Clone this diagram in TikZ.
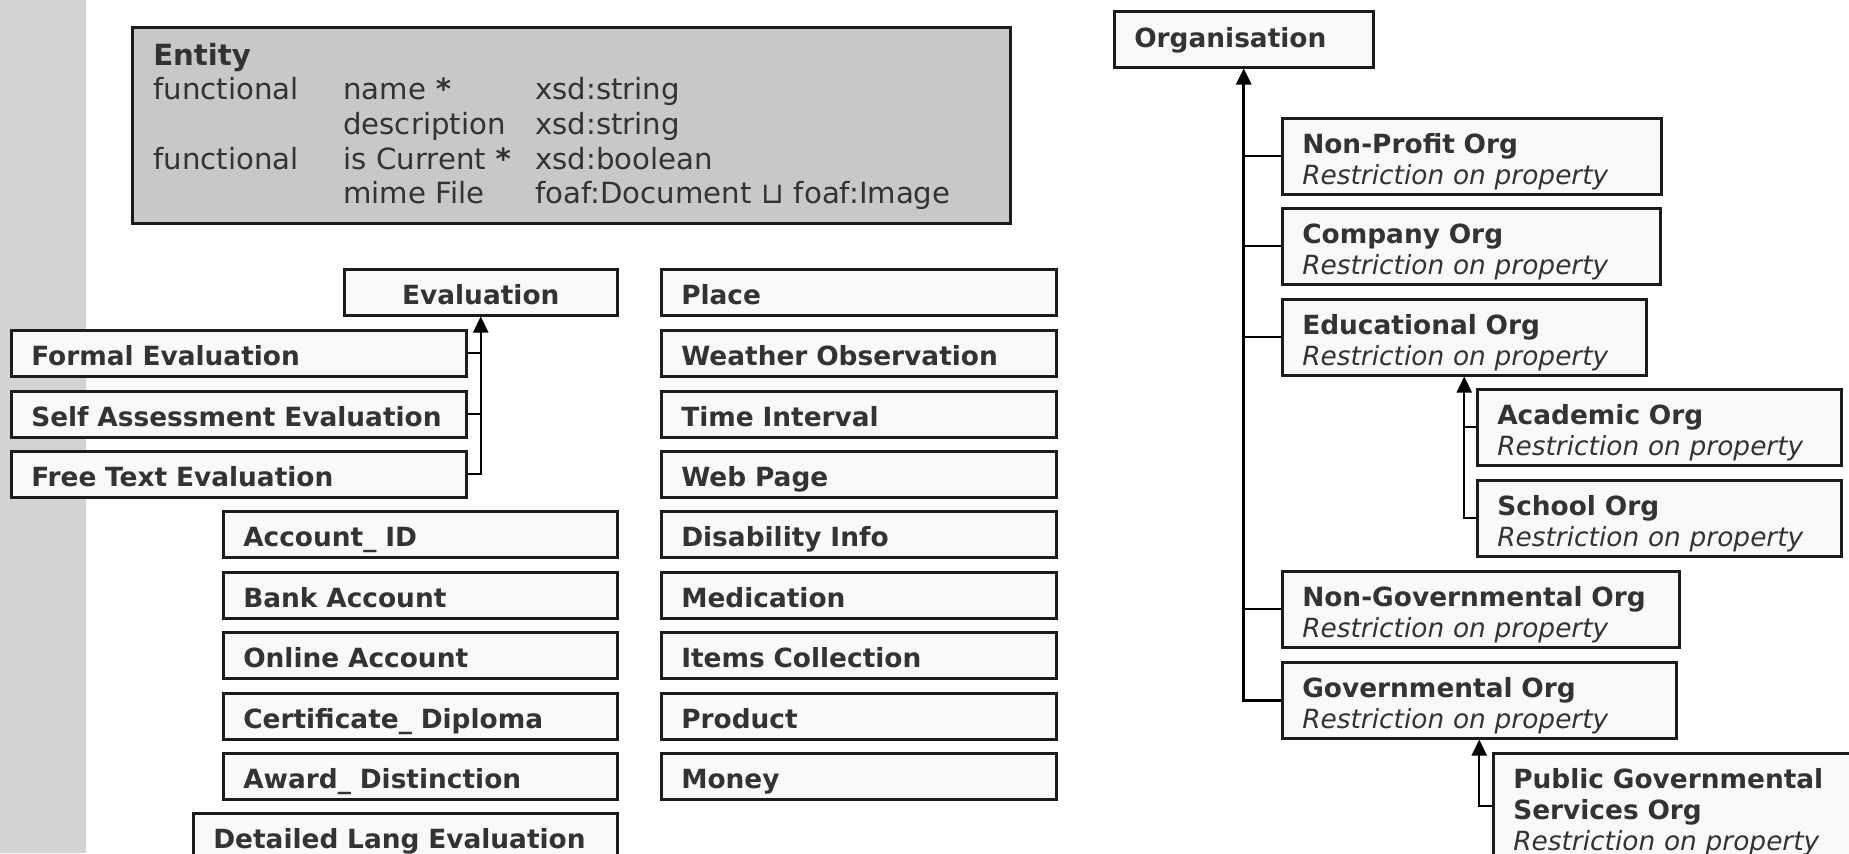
\documentclass[tikz,border=0pt]{standalone}
\usepackage{fontspec}
\setmainfont{DejaVu Sans}[BoldFont={DejaVu Sans Bold},ItalicFont={DejaVu Sans Oblique},BoldItalicFont={DejaVu Sans Bold Oblique}]
\usetikzlibrary{arrows.meta}
\definecolor{band}{RGB}{211,211,211}
\definecolor{entfill}{RGB}{200,200,200}
\definecolor{boxfill}{RGB}{249,249,249}
\definecolor{boxline}{RGB}{28,28,28}
\definecolor{txt}{RGB}{51,51,51}
\begin{document}
\begin{tikzpicture}[x=0.5pt,y=-0.5pt,
  basebox/.style={draw=boxline,line width=1.25pt,fill=boxfill,text=txt,anchor=north west,inner xsep=10pt,inner ysep=0pt,align=left},
  sb/.style={basebox,font=\fontsize{13.2pt}{15.5pt}\selectfont\bfseries,minimum width=#1*0.5pt,text width=#1*0.5pt-20pt,minimum height=23pt,text height=12.5pt,text depth=0pt},
  db/.style={basebox,font=\fontsize{13.2pt}{15.5pt}\selectfont,minimum width=#1*0.5pt,text width=#1*0.5pt-20pt,minimum height=38pt,text height=0pt,text depth=3pt},
  link/.style={draw=black,line width=1.1pt},
  isa/.style={link,-{Triangle[width=7.5pt,length=8pt]}},
]
\useasboundingbox (0,0) rectangle (1849,853);
\clip (0,0) rectangle (1849,853);
\fill[band] (0,0) rectangle (86,853);

% Entity
\node[draw=boxline,line width=1.25pt,fill=entfill,text=txt,anchor=north west,inner xsep=10.5pt,inner ysep=0pt,align=left,
  minimum width=439pt,minimum height=98pt,text width=418pt,text height=0pt,text depth=60pt,
  font=\fontsize{14.6pt}{17.3pt}\selectfont] (entity) at (131,26)
  {\textbf{Entity}\\
   \makebox[95pt][l]{functional}\makebox[96pt][l]{name \textbf{*}}xsd:string\\
   \makebox[95pt][l]{}\makebox[96pt][l]{description}xsd:string\\
   \makebox[95pt][l]{functional}\makebox[96pt][l]{is Current \textbf{*}}xsd:boolean\\
   \makebox[95pt][l]{}\makebox[96pt][l]{mime File}foaf:Document ⊔ foaf:Image};

% Evaluation group
\node[sb=273,align=center] (eval) at (343,268) {Evaluation};
\node[sb=455] (formal) at (10,329) {Formal Evaluation};
\node[sb=455] (self) at (10,390) {Self Assessment Evaluation};
\node[sb=455] (free) at (10,450) {Free Text Evaluation};

% column B
\node[sb=394] (acc) at (222,510) {Account\_ ID};
\node[sb=394] (bank) at (222,571) {Bank Account};
\node[sb=394] (online) at (222,631) {Online Account};
\node[sb=394] (cert) at (222,692) {Certificate\_ Diploma};
\node[sb=394] (award) at (222,752) {Award\_ Distinction};
\node[sb=424] (detail) at (192,812) {Detailed Lang Evaluation};

% column C
\node[sb=395] (place) at (660,268) {Place};
\node[sb=395] (weather) at (660,329) {Weather Observation};
\node[sb=395] (time) at (660,390) {Time Interval};
\node[sb=395] (web) at (660,450) {Web Page};
\node[sb=395] (disab) at (660,510) {Disability Info};
\node[sb=395] (med) at (660,571) {Medication};
\node[sb=395] (items) at (660,631) {Items Collection};
\node[sb=395] (product) at (660,692) {Product};
\node[sb=395] (money) at (660,752) {Money};

% Organisation group
\node[sb=259,minimum height=28pt,text height=8.5pt] (org) at (1113,10) {Organisation};
\node[db=379] (np) at (1281,117) {\textbf{Non-Profit Org}\\\textit{Restriction on property}};
\node[db=378] (comp) at (1281,207) {\textbf{Company Org}\\\textit{Restriction on property}};
\node[db=364] (edu) at (1281,298) {\textbf{Educational Org}\\\textit{Restriction on property}};
\node[db=364] (acad) at (1476,388) {\textbf{Academic Org}\\\textit{Restriction on property}};
\node[db=364] (school) at (1476,479) {\textbf{School Org}\\\textit{Restriction on property}};
\node[db=397] (ngov) at (1281,570) {\textbf{Non-Governmental Org}\\\textit{Restriction on property}};
\node[db=394] (gov) at (1281,661) {\textbf{Governmental Org}\\\textit{Restriction on property}};
\node[db=370,minimum height=53pt,text depth=18pt] (pub) at (1492,752) {\textbf{Public Governmental}\\\textbf{Services Org}\\\textit{Restriction on property}};

% connectors
\draw[isa] (free.east) -| (eval.south);
\draw[link] (formal.east) -- (formal.east -| eval.south);
\draw[link] (self.east) -- (self.east -| eval.south);

\draw[isa,line width=1.4pt] (gov.west) -| (org.south);
\draw[link] (np.west) -- (np.west -| org.south);
\draw[link] (comp.west) -- (comp.west -| org.south);
\draw[link] (edu.west) -- (edu.west -| org.south);
\draw[link] (ngov.west) -- (ngov.west -| org.south);

\draw[isa] (school.west) -| (edu.south);
\draw[link] (acad.west) -- (acad.west -| edu.south);

\draw[isa] (pub.west) -| (gov.south);
\end{tikzpicture}
\end{document}
